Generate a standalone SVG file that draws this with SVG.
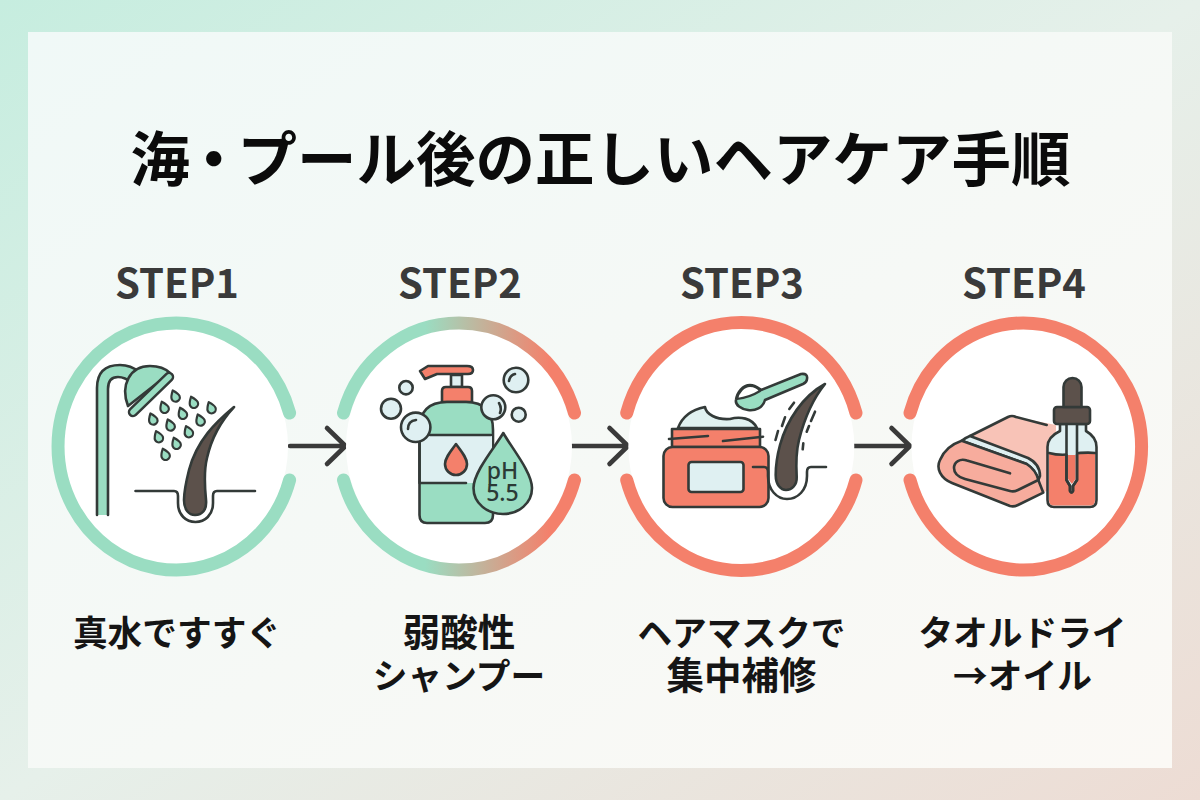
<svg xmlns="http://www.w3.org/2000/svg" width="1200" height="800" viewBox="0 0 1200 800">
<style>
.jp{font-family:"Noto Sans CJK JP","Noto Sans",sans-serif;font-weight:700}
.title{font-size:59.500px;fill:#0b0b0b}
.step{font-size:40px;fill:#3a3a3a;text-anchor:middle}
.lab{font-size:34.700px;fill:#151515;text-anchor:middle}
.kan{font-size:37.500px}
.ph{font-family:"Noto Sans","Noto Sans CJK JP",sans-serif;font-weight:500;font-size:23px;fill:#2b3a36;text-anchor:middle}
.ring{fill:none;stroke-width:13;stroke-linecap:round}
.disc{fill:#fff}
.o{stroke:#333a38;stroke-width:2.600;stroke-linejoin:round;stroke-linecap:round}
.n{fill:none}
.mint{fill:#9addc2}.coral{fill:#f4806b}.ice{fill:#dff0f2}.brown{fill:#5c514b}
.arrow{fill:none;stroke:#3a3a3a;stroke-width:4.600;stroke-linecap:round;stroke-linejoin:round}
</style>
<defs>
<linearGradient id="bg" x1="0" y1="0" x2="1" y2="1"><stop offset="0" stop-color="#c6eddf"/><stop offset=".5" stop-color="#e6f0ea"/><stop offset="1" stop-color="#eddcd4"/></linearGradient>
<linearGradient id="panel" x1="0" y1="0" x2="1" y2="1"><stop offset="0" stop-color="#f0f9f7"/><stop offset="1" stop-color="#fbf9f5"/></linearGradient>
<linearGradient id="ringMix" gradientUnits="userSpaceOnUse" x1="425" y1="0" x2="550" y2="0"><stop offset="0" stop-color="#9addc2"/><stop offset="1" stop-color="#f4806b"/></linearGradient>
<path id="d" d="M0-6C2.500-3 4.200-.8 4.200 1.600A4.200 4.200 0 0 1-4.200 1.600C-4.200-.8-2.500-3 0-6Z" transform="rotate(-22)" fill="#9addc2" stroke="#333a38" stroke-width="2.200" stroke-linejoin="round"/>
</defs>
<rect width="1200" height="800" fill="url(#bg)"/>
<rect x="28" y="32" width="1144" height="736" fill="url(#panel)"/>
<text id="title" class="jp title" x="130.500" y="181">海<tspan dx="-6">・</tspan><tspan dx="-6">プール後の正しいヘアケア手順</tspan></text>

<g id="connectors">
<path class="arrow" d="M290 446H345M327 428L345.500 446L327 464"/>
<path class="arrow" d="M572 446H627M609.500 428L628 446L609.500 464"/>
<path class="arrow" d="M853.500 446H909M891.500 428L910 446L891.500 464"/>
</g>

<g id="step1">
<text class="jp step" x="177" y="298">STEP1</text>
<ellipse class="disc" cx="176" cy="446.500" rx="112" ry="118"/>
<path class="ring" stroke="#9addc2" d="M289.600 413A118 123.500 0 1 0 289.600 480"/>
<path class="mint o" d="M97 515V388Q97 365 120 365Q131 365 139 372L132 383Q125 377 118 377Q108 377 108 389V515"/>
<path class="mint o" d="M128 406C120 385 130 366 150 366C158 366 165 368 170 373Z"/>
<path class="n" stroke="#333a38" stroke-width="10.500" stroke-linecap="round" d="M169 377L133 412"/>
<path class="n" stroke="#9addc2" stroke-width="5.500" stroke-linecap="round" d="M169 377L133 412"/>
<use href="#d" x="175" y="396"/><use href="#d" x="193.300" y="402.300"/><use href="#d" x="211" y="407.700"/>
<use href="#d" x="164" y="407.300"/><use href="#d" x="182.300" y="413.300"/><use href="#d" x="200" y="420"/>
<use href="#d" x="152.700" y="419"/><use href="#d" x="170" y="425"/><use href="#d" x="188.300" y="431.700"/>
<use href="#d" x="158.300" y="436.700"/><use href="#d" x="176" y="443.300"/><use href="#d" x="165" y="454.300"/>
<path class="n o" d="M135.500 491H174Q178 491 178 496V503C178 515 186 522 195.500 522C205 522 213 515 213 503V496Q213 491 217 491H255"/>
<path class="brown o" d="M234 407C216 422 197 440 189 470C186 482 184 490 184 500C184 510 189 515 195 515C202 515 207 510 206 500C205 490 204 470 207 458C211 440 220 422 234 407Z"/>
<text class="jp lab" x="177" y="646">真水ですすぐ</text>
</g>

<g id="step2">
<text class="jp step" x="460" y="298">STEP2</text>
<ellipse class="disc" cx="459" cy="446.500" rx="113" ry="118"/>
<path class="ring" stroke="url(#ringMix)" d="M343.500 413A120 123.500 0 0 1 574.500 413"/>
<path class="ring" stroke="url(#ringMix)" d="M343.500 480A120 123.500 0 0 0 574.500 480"/>
<rect class="ice o" x="451" y="375" width="11" height="12"/>
<path class="coral o" d="M420 371L428 366H467Q473 366 473 370Q473 374 468 374H437L425 379Z"/>
<path class="coral o" d="M442 402V391Q442 387 446 387H468Q472 387 472 391V402Z"/>
<path class="mint o" d="M419.500 515V430Q419.500 402 447 402H466Q493 402 493 430V515Q493 523 485 523H427Q419.500 523 419.500 515Z"/>
<rect class="ice" x="421" y="435" width="71" height="48"/>
<path class="n o" d="M419.500 435V483M430 435H491M421 483H466"/>
<path class="coral o" d="M456 444C450 452 445 458 445 464A11 11 0 0 0 467 464C467 458 462 452 456 444Z"/>
<g class="ice"><circle class="o" cx="406" cy="387.700" r="6.700"/><circle class="o" cx="391" cy="408.700" r="10"/><circle class="o" cx="516" cy="380" r="12.300"/><circle class="o" cx="493.300" cy="407.300" r="12"/><circle class="o" cx="518.700" cy="414.700" r="7"/><circle class="o" cx="415.700" cy="427.300" r="14.700"/></g>
<path class="n o" stroke-width="2" d="M408 429Q408 421 416 420M509 381Q510 375 515 374M499 403Q502 408 500 413"/>
<path class="mint o" d="M503.300 433C495 447 473.500 472 473.500 488C473.500 503 487 514 503 514C519 514 532 503 532 488C532 472 511 447 503.300 433Z"/>
<text class="ph" x="502.500" y="479">pH</text>
<text class="ph" x="502.500" y="501">5.5</text>
<text class="jp lab kan" x="459" y="646">弱酸性</text>
<text class="jp lab" x="459" y="689">シャンプー</text>
</g>

<g id="step3">
<text class="jp step" x="742" y="298">STEP3</text>
<ellipse class="disc" cx="741.300" cy="446.500" rx="113" ry="118"/>
<path class="ring" stroke="#f4806b" d="M626.700 413A119 123.500 0 0 1 856 413"/>
<path class="ring" stroke="#f4806b" d="M626.700 480A119 123.500 0 0 0 856 480"/>
<path class="o" fill="#9addc2" d="M736 400C737 392 743 385 750 385C756 385 758 388 761 390L801 374Q808 373 807 379Q807 382 803 384L765 400C763 408 755 411 748 410C741 409 735 405 736 400Z"/>
<path fill="#fff" stroke="#333a38" stroke-width="2.200" stroke-linejoin="round" d="M737 399C738 392 744 386 750 386C755 386 758 388 760 391C752 396 745 398 737 399Z"/>
<path class="o" fill="#e0f1f0" d="M678 428C684 412 700 408 705 407C706 414 716 420 730 419C740 416 752 418 757 428Z"/>
<rect class="coral o" x="672" y="429" width="88" height="18"/>
<path class="n o" d="M669 439L708 436M723 441L763 436.700"/>
<rect class="coral o" x="663.500" y="447" width="105" height="60" rx="9"/>
<rect class="ice o" x="688.500" y="462" width="55" height="30" rx="3"/>
<path class="n o" d="M753 467H764Q768 467 768 472V476C768 490 777 499 787 499C798 499 807 490 807 476V472Q807 467 811 467H826"/>
<path class="brown o" d="M825 384C803 396 787 420 780 445C777 456 775.700 465 775.700 475C775.700 485 781 490 786 490C792 490 797 485 796.700 477C796 465 796 452 799 440C804 420 812 400 825 384Z"/>
<path class="n o" d="M794 402.700L789.300 409M785 417.300L782 426M778 431L775.500 440M815 411.700L811 421M809 426L806.700 431.700M803.300 443.300L802.700 449.300"/>
<text class="jp lab" x="741.500" y="646">ヘアマスクで</text>
<text class="jp lab kan" x="741.500" y="689">集中補修</text>
</g>

<g id="step4">
<text class="jp step" x="1024" y="298">STEP4</text>
<ellipse class="disc" cx="1023.500" cy="446.500" rx="112" ry="118"/>
<path class="ring" stroke="#f4806b" d="M910 413A118 123.500 0 1 1 910 480"/>
<path fill="#f8c3b7" d="M970 436L1008 417Q1012 415 1016 417L1056 425V486L1043 492.700L1018 505H1005Z"/>
<path class="n o" d="M970 436L1008 417Q1012 415 1016 417L1046.700 425"/>
<path class="ice o" d="M961.700 440.700Q965 438 970 436L1028 458Q1040 464 1040 476L1038.300 480Q1036 470 1026.700 464Z"/>
<path fill="#f7ac9d" class="o" d="M961.700 440.700L1026.700 464Q1036 470 1038.300 480L1043.300 492.700L1018 505Q1014 507 1010 506L952 483C940 478 936 468 940 460C944 450 952 444 961.700 440.700Z"/>
<path class="n o" d="M1010 473.300L967 460.500C960 458 954 462 954 468C954 473 958 477 965 479L1010 491Q1014 492 1018 490L1038.300 480"/>
<path fill="#dff0f2" class="o" d="M1060 424H1086V431Q1096.500 437 1096.500 447V500Q1096.500 507 1090 507H1054Q1047.500 507 1047.500 500V447Q1047.500 437 1060 431Z"/>
<path class="coral" d="M1049 454H1095V500Q1095 505.500 1090 505.500H1054Q1049 505.500 1049 500Z"/>
<path class="n o" d="M1049 453Q1060 456 1072 454Q1085 452 1095 453"/>
<path fill="#dff0f2" class="o" d="M1066.500 423V480L1070 486V491Q1071.500 494 1073 491V486L1077 480V423Z"/>
<path fill="#ee7763" d="M1068 455H1075.500V479L1072 484L1068 479Z"/>
<path class="n o" d="M1066.500 455V480L1070 486V491Q1071.500 494 1073 491V486L1077 480V455"/>
<rect class="brown o" x="1054" y="407" width="36" height="17" rx="3"/>
<path class="brown o" d="M1063.500 407V387A9 9 0 0 1 1081.500 387V407Z"/>
<text class="jp lab" x="1022.500" y="646">タオルドライ</text>
<text class="jp lab" x="1022.500" y="689">→オイル</text>
</g>
</svg>
